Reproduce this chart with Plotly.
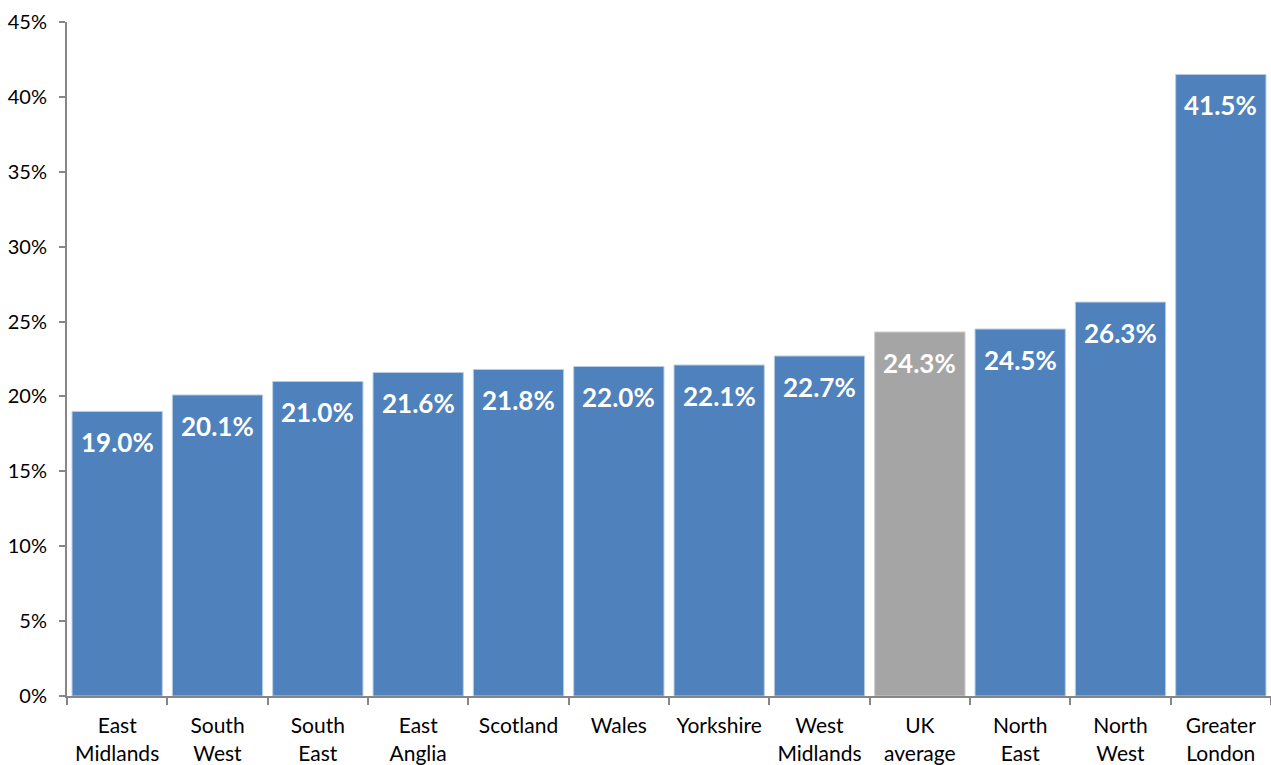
import plotly.graph_objects as go

# Share by region, percent
regions = ["East<br>Midlands", "South<br>West", "South<br>East", "East<br>Anglia",
           "Scotland", "Wales", "Yorkshire", "West<br>Midlands", "UK<br>average",
           "North<br>East", "North<br>West", "Greater<br>London"]
values = [19.0, 20.1, 21.0, 21.6, 21.8, 22.0, 22.1, 22.7, 24.3, 24.5, 26.3, 41.5]
highlight = "UK<br>average"

y_ticks = [0, 5, 10, 15, 20, 25, 30, 35, 40, 45]
y_tick_labels = [f"{v}%" for v in y_ticks]

BLUE = "#4F81BD"
GREY = "#A5A5A5"
FONT = "Lato"

colors = [GREY if r == highlight else BLUE for r in regions]
borders = ["#C9C9C9" if r == highlight else "#B9CDE5" for r in regions]

fig = go.Figure()
fig.add_trace(go.Bar(
    x=regions,
    y=values,
    marker=dict(color=colors, line=dict(color=borders, width=1)),
    hoverinfo="x+y",
))

# value labels sit just inside the top of each bar
for r, v in zip(regions, values):
    fig.add_annotation(
        x=r, y=v, text=f"<b>{v:.1f}%</b>", showarrow=False,
        yanchor="middle", yshift=-31,
        font=dict(family=FONT, size=26, color="white"),
    )

fig.update_layout(
    width=1271, height=765,
    margin=dict(l=67, r=0, t=22, b=69),
    paper_bgcolor="white", plot_bgcolor="white",
    bargap=0.1,
    showlegend=False,
    font=dict(family=FONT, size=18, color="black"),
)
fig.update_xaxes(
    showline=True, linecolor="#868686", linewidth=2,
    ticks="outside", tickson="boundaries", ticklen=7, tickwidth=2, tickcolor="#868686",
    tickfont=dict(family=FONT, size=21, color="black"),
    ticklabelstandoff=10,
    showgrid=False,
)
fig.update_yaxes(
    range=[0, 45], tickvals=y_ticks, ticktext=y_tick_labels,
    showline=True, linecolor="#868686", linewidth=2,
    ticks="outside", ticklen=6, tickwidth=2, tickcolor="#868686",
    tickfont=dict(family=FONT, size=20, color="black"),
    ticklabelstandoff=8,
    showgrid=False, zeroline=False,
)

fig.write_html("out.html")
